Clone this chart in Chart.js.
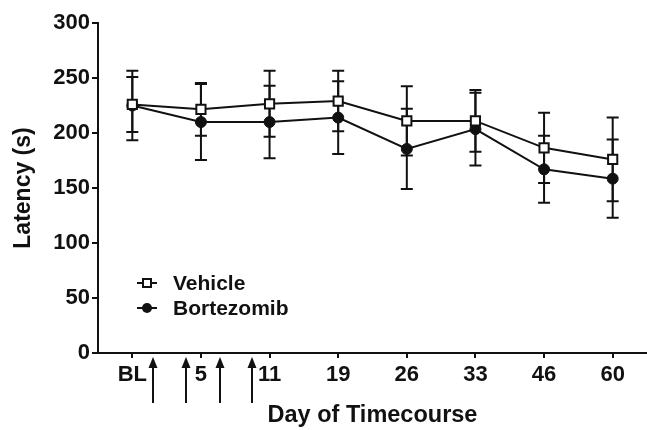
<!DOCTYPE html>
<html>
<head>
<meta charset="utf-8">
<script src="https://cdn.jsdelivr.net/npm/chart.js@4/dist/chart.umd.min.js"></script>
<style>
  html, body { margin: 0; padding: 0; background: #fff; }
</style>
</head>
<body>
<canvas id="canvas" width="647" height="430"></canvas>
<script>
// x categories (days)
var dayLabels = ["BL", "5", "11", "19", "26", "33", "46", "60"];

// mean latency (s) and SEM
var vehicleMean = [226, 221.5, 226.5, 229, 211, 211, 186.5, 176];
var vehicleSem  = [25, 24, 30, 27.5, 31.5, 28, 32, 38];
var bortezomibMean = [225, 210, 210, 214, 185.5, 203.5, 167, 158.5];
var bortezomibSem  = [31.5, 34.5, 33, 33, 36.5, 33, 30.5, 35.5];

// dosing arrows, in category units (0 = BL, 1 = day 5, ...)
var doseArrows = [0.3, 0.78, 1.28, 1.75];

var yTicks = [0, 50, 100, 150, 200, 250, 300];

var FONT = "'Liberation Sans', Arial, sans-serif";
var INK = "#111";

// error bars, drawn under the lines and markers
var errorBarPlugin = {
    id: "errorBars",
    beforeDatasetsDraw: function(chart) {
        var ctx = chart.ctx;
        var y = chart.scales.y;
        ctx.save();
        ctx.strokeStyle = INK;
        ctx.lineWidth = 2;
        chart.data.datasets.forEach(function(ds, di) {
            var meta = chart.getDatasetMeta(di);
            meta.data.forEach(function(pt, i) {
                var hi = y.getPixelForValue(ds.data[i] + ds.sem[i]);
                var lo = y.getPixelForValue(ds.data[i] - ds.sem[i]);
                ctx.beginPath();
                ctx.moveTo(pt.x, hi); ctx.lineTo(pt.x, lo);
                ctx.moveTo(pt.x - 6, hi); ctx.lineTo(pt.x + 6, hi);
                ctx.moveTo(pt.x - 6, lo); ctx.lineTo(pt.x + 6, lo);
                ctx.stroke();
            });
        });
        ctx.restore();
    }
};

// arrows under the x axis + the in-plot legend
var extrasPlugin = {
    id: "extras",
    afterDraw: function(chart) {
        var ctx = chart.ctx;
        var x = chart.scales.x;
        var area = chart.chartArea;
        ctx.save();
        ctx.strokeStyle = INK;
        ctx.fillStyle = INK;
        ctx.lineWidth = 2;
        doseArrows.forEach(function(v) {
            var px = Math.round(x.getPixelForValue(v));
            var top = area.bottom + 4;
            ctx.beginPath();
            ctx.moveTo(px, top + 8);
            ctx.lineTo(px, area.bottom + 50);
            ctx.stroke();
            ctx.beginPath();
            ctx.moveTo(px, top);
            ctx.lineTo(px - 4.5, top + 11);
            ctx.lineTo(px + 4.5, top + 11);
            ctx.closePath();
            ctx.fill();
        });

        // legend
        var lx = area.left + 49;
        var rows = [area.bottom - 70, area.bottom - 45];
        chart.data.datasets.forEach(function(ds, i) {
            var ly = rows[i];
            ctx.strokeStyle = INK;
            ctx.lineWidth = 2;
            ctx.beginPath();
            ctx.moveTo(lx - 10, ly); ctx.lineTo(lx + 10, ly);
            ctx.stroke();
            if (ds.pointStyle === "rect") {
                ctx.fillStyle = "#fff";
                ctx.fillRect(lx - 4, ly - 4, 8, 8);
                ctx.strokeRect(lx - 4, ly - 4, 8, 8);
            } else {
                ctx.fillStyle = INK;
                ctx.beginPath();
                ctx.arc(lx, ly, 5, 0, Math.PI * 2);
                ctx.fill();
            }
            ctx.fillStyle = INK;
            ctx.font = "bold 21px " + FONT;
            ctx.textBaseline = "middle";
            ctx.textAlign = "left";
            ctx.fillText(ds.label, lx + 26, ly + 1);
        });
        ctx.restore();
    }
};

var chartData = {
    labels: dayLabels,
    datasets: [
        {
            label: "Vehicle",
            data: vehicleMean,
            sem: vehicleSem,
            borderColor: INK,
            borderWidth: 2,
            pointStyle: "rect",
            pointRadius: 6.5,
            pointBorderWidth: 2,
            pointBackgroundColor: "#fff",
            pointBorderColor: INK,
            tension: 0
        },
        {
            label: "Bortezomib",
            data: bortezomibMean,
            sem: bortezomibSem,
            borderColor: INK,
            borderWidth: 2,
            pointStyle: "circle",
            pointRadius: 5.5,
            pointBorderWidth: 1,
            pointBackgroundColor: INK,
            pointBorderColor: INK,
            tension: 0
        }
    ]
};

var chartOptions = {
    responsive: false,
    animation: false,
    layout: { autoPadding: false, padding: { top: 23, right: 0, bottom: 0, left: 0 } },
    plugins: {
        legend: { display: false },
        tooltip: { enabled: false }
    },
    scales: {
        x: {
            offset: true,
            grid: { offset: false, drawOnChartArea: false, drawTicks: true, tickLength: 5, color: INK, lineWidth: 2 },
            border: { color: INK, width: 2 },
            ticks: { color: INK, padding: 4, maxRotation: 0, font: { family: FONT, size: 22, weight: "bold" } },
            title: {
                display: true, text: "Day of Timecourse", color: INK,
                padding: { top: 0, bottom: 0 },
                font: { family: FONT, size: 23.5, weight: "bold" }
            },
            afterFit: function(scale) {
                scale.height = 77;
                scale.paddingLeft = 0;
                scale.paddingRight = 0;
            }
        },
        y: {
            min: 0, max: 300,
            afterBuildTicks: function(scale) {
                scale.ticks = yTicks.map(function(v) { return { value: v }; });
            },
            grid: { drawOnChartArea: false, drawTicks: true, tickLength: 6, color: INK, lineWidth: 2 },
            border: { color: INK, width: 2 },
            ticks: { color: INK, padding: 2, font: { family: FONT, size: 22, weight: "bold" } },
            title: {
                display: true, text: "Latency (s)", color: INK,
                padding: { top: 10, bottom: 0 },
                font: { family: FONT, size: 23, weight: "bold" }
            },
            afterFit: function(scale) { scale.width = 98; }
        }
    }
};

window.onload = function() {
    var ctx = document.getElementById("canvas").getContext("2d");
    window.myChart = new Chart(ctx, {
        type: "line",
        data: chartData,
        options: chartOptions,
        plugins: [errorBarPlugin, extrasPlugin]
    });
};
</script>
</body>
</html>
